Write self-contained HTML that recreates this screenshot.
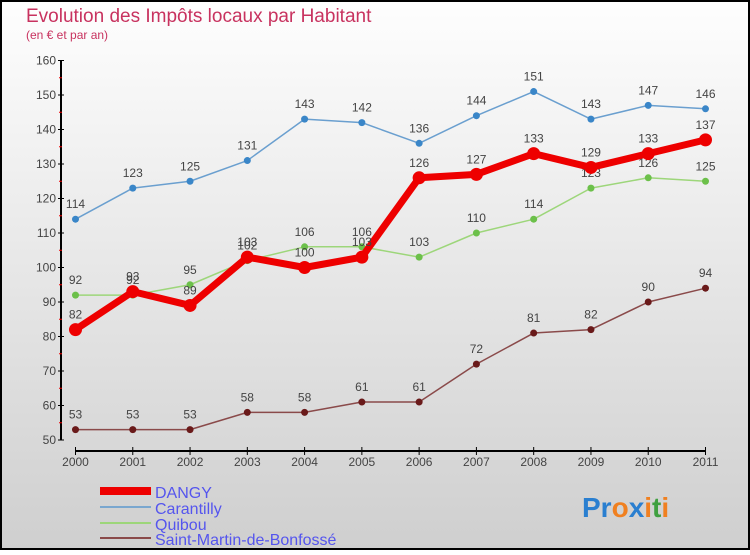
<!DOCTYPE html>
<html><head><meta charset="utf-8"><style>
body{margin:0;width:750px;height:550px;overflow:hidden;font-family:"Liberation Sans",sans-serif}
svg text{font-family:"Liberation Sans",sans-serif}
</style></head><body>
<svg width="750" height="550" id="c">
<defs><linearGradient id="bg" x1="0" y1="0" x2="0" y2="1"><stop offset="0" stop-color="#fefefe"/><stop offset="1" stop-color="#cfcfcf"/></linearGradient></defs>
<rect x="1" y="1" width="748" height="548" fill="url(#bg)" stroke="#000" stroke-width="2"/>
<text x="26" y="22" font-size="19" fill="#c8325f">Evolution des Impôts locaux par Habitant</text>
<text x="26" y="39" font-size="12" fill="#c8325f">(en € et par an)</text>
<g id="axes"></g><g id="series"></g>
<g>
<rect x="100" y="487" width="51" height="8" fill="#e00"/>
<line x1="100" y1="507" x2="151" y2="507" stroke="#7aa7cf" stroke-width="2"/>
<line x1="100" y1="523" x2="151" y2="523" stroke="#9dd67a" stroke-width="2"/>
<line x1="100" y1="538" x2="151" y2="538" stroke="#8a4a4a" stroke-width="2"/>
<text x="155" y="498" font-size="16" fill="#5555ee">DANGY</text>
<text x="155" y="514" font-size="16" fill="#5555ee">Carantilly</text>
<text x="155" y="530" font-size="16" fill="#5555ee">Quibou</text>
<text x="155" y="545" font-size="16" fill="#5555ee">Saint-Martin-de-Bonfossé</text>
</g>
<text x="582" y="517" font-size="28" font-weight="bold"><tspan fill="#2a7fd0">Pr</tspan><tspan fill="#f08020">o</tspan><tspan fill="#2a7fd0">x</tspan><tspan fill="#f08020">i</tspan><tspan fill="#40a040">t</tspan><tspan fill="#f08020">i</tspan></text>
</svg>
<script>
const years=[2000,2001,2002,2003,2004,2005,2006,2007,2008,2009,2010,2011];
const yTicks=[50,60,70,80,90,100,110,120,130,140,150,160];
const dangy=[82,93,89,103,100,103,126,127,133,129,133,137];
const carantilly=[114,123,125,131,143,142,136,144,151,143,147,146];
const quibou=[92,92,95,102,106,106,103,110,114,123,126,125];
const saintMartin=[53,53,53,58,58,61,61,72,81,82,90,94];
const NS='http://www.w3.org/2000/svg';
function X(i){return 75.5+i*(705.5-75.5)/(years.length-1);}
function Y(v){return 440-(v-50)*3.45;}
function mk(t,a,p){const e=document.createElementNS(NS,t);for(const k in a)e.setAttribute(k,a[k]);p.appendChild(e);return e;}
const ax=document.getElementById('axes');
let l=mk('line',{x1:61,y1:Y(160),x2:61,y2:Y(50),stroke:'#000','stroke-width':2},ax);


l=mk('line',{x1:75,y1:451,x2:706,y2:451,stroke:'#000','stroke-width':2},ax);


yTicks.forEach(v=>{
 mk('line',{x1:58,y1:Y(v),x2:64,y2:Y(v),stroke:'#000'},ax);
 if(v<160) mk('line',{x1:59,y1:Y(v+5),x2:62,y2:Y(v+5),stroke:'#e00'},ax);
 const t=mk('text',{x:56,y:Y(v)+4,'font-size':12,fill:'#444','text-anchor':'end'},ax);t.textContent=v;
 
 
});
years.forEach((y,i)=>{
 mk('line',{x1:X(i),y1:447,x2:X(i),y2:455,stroke:'#000'},ax);
 const t=mk('text',{x:X(i),y:466,'font-size':12,fill:'#444','text-anchor':'middle'},ax);t.textContent=y;
 
 
});
const sg=document.getElementById('series');
function draw(data,color,w,r,dot,name){
 const g=mk('g',{},sg);
 
 
 mk('polyline',{points:data.map((v,i)=>X(i)+','+Y(v)).join(' '),fill:'none',stroke:color,'stroke-width':w,'stroke-linejoin':'round'},g);
 data.forEach((v,i)=>{
  const c=mk('circle',{cx:X(i),cy:Y(v),r:r,fill:dot},g);
  
  
  const t=mk('text',{x:X(i),y:Y(v)-11,'font-size':12,fill:'#444','text-anchor':'middle'},g);t.textContent=v;
  
  
 });
}
draw(saintMartin,'#8a4a4a',1.5,3.5,'#6a1a1a','saint-martin');
draw(quibou,'#9dd67a',1.5,3.5,'#6cc04a','quibou');
draw(carantilly,'#6a9fcf',1.5,3.5,'#3a86c8','carantilly');
draw(dangy,'#e00',7,6.5,'#e00','dangy');
</script>
</body></html>
